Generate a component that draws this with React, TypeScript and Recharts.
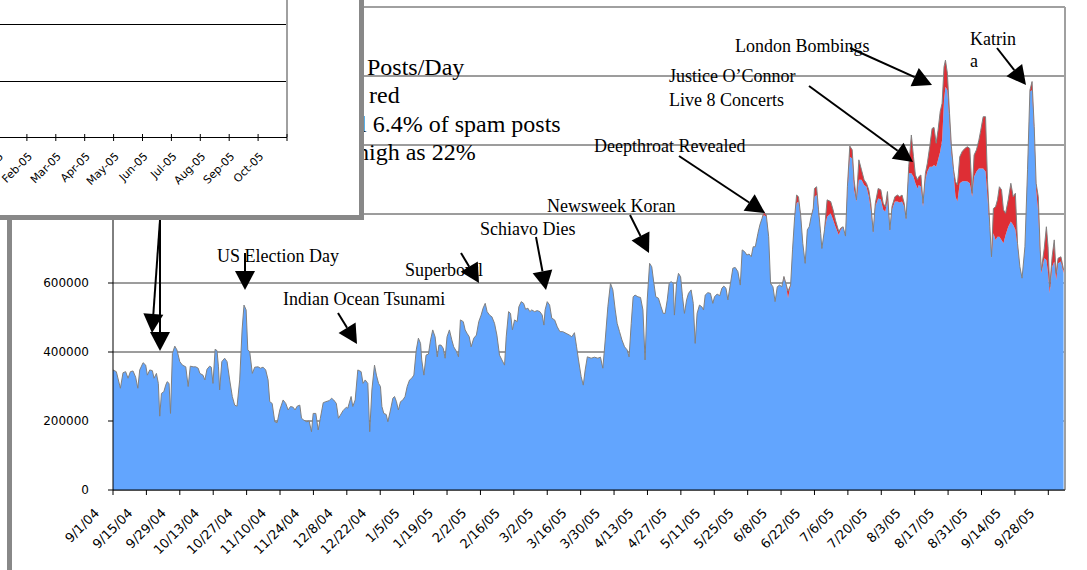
import { Area, AreaChart, CartesianGrid, ReferenceLine, XAxis, YAxis } from 'recharts'

// day offset from 9/1/04
const DAY = [
  0, 1.4, 3.1, 4.2, 5.3, 6.3, 7.3, 8.4, 9.5, 10.4,
  11.2, 12.6, 13.7, 14.4, 15.4, 16.5, 17.2, 18.2, 19.0, 19.6,
  20.3, 21.3, 22.1, 22.7, 23.5, 24.1, 24.9, 25.9, 26.8, 28.0,
  29.1, 30.5, 31.5, 32.4, 33.6, 34.7, 35.7, 36.4, 37.7, 38.5,
  39.4, 40.5, 41.2, 41.9, 42.8, 43.6, 44.2, 44.7, 45.6, 46.8,
  47.8, 48.9, 50.0, 51.0, 52.0, 53.1, 54.1, 54.9, 55.8, 56.5,
  57.3, 58.4, 59.4, 60.8, 61.8, 62.9, 64.0, 65.0, 65.7, 66.7,
  67.8, 68.8, 69.9, 71.3, 72.4, 73.4, 74.4, 75.5, 76.3, 77.2,
  78.3, 79.0, 79.9, 81.1, 82.2, 83.2, 83.9, 85.0, 86.0, 86.9,
  88.1, 89.2, 90.6, 91.6, 92.5, 93.6, 94.5, 95.3, 96.4, 97.8,
  98.4, 99.8, 100.5, 101.5, 102.6, 104.0, 104.8, 105.7, 106.8, 107.6,
  108.5, 109.6, 110.4, 111.3, 112.1, 112.7, 113.5, 114.5, 115.2, 116.3,
  117.3, 118.0, 118.8, 119.6, 120.5, 121.5, 122.4, 123.3, 124.3, 125.2,
  126.1, 127.1, 128.0, 128.9, 129.4, 130.3, 131.2, 132.2, 133.1, 134.0,
  135.0, 135.9, 136.6, 137.5, 138.4, 139.2, 140.0, 141.0, 142.0, 142.8,
  144.0, 144.8, 145.6, 146.8, 147.6, 148.4, 149.3, 150.1, 151.2, 152.3,
  153.3, 154.3, 155.1, 156.0, 156.8, 157.8, 158.8, 159.9, 160.9, 162.0,
  163.0, 164.1, 164.8, 165.8, 166.6, 167.4, 168.3, 169.4, 170.1, 171.1,
  172.1, 172.9, 173.9, 174.7, 175.5, 176.7, 177.8, 178.9, 179.9, 180.6,
  181.1, 182.0, 183.0, 183.9, 185.1, 186.2, 187.3, 188.5, 189.9, 191.3,
  192.3, 193.4, 194.3, 195.1, 196.2, 197.1, 197.9, 198.8,
  200.4, 201.8, 203.2, 204.3, 205.3, 206.3, 207.4, 208.5, 209.5, 210.5,
  211.3, 212.3, 213.3, 214.4, 215.5, 216.3, 217.2, 218.0, 218.8, 220.0,
  221.1, 222.1, 223.0, 223.9, 224.9, 225.8, 226.7, 227.5, 228.6, 229.7,
  230.6, 231.4, 232.3, 233.1, 233.9, 234.8, 235.3, 236.2, 237.0, 237.9,
  238.7, 239.5, 240.4, 241.2, 242.3, 243.2, 244.0, 244.8, 245.8, 246.8,
  247.5, 248.2, 249.3, 250.4, 251.4, 252.1, 253.2, 254.3, 255.2, 256.0,
  256.9, 257.7, 258.8, 259.8, 260.8, 261.9, 262.9, 263.7, 264.7, 265.7,
  266.6, 267.5, 268.3, 269.2, 270.3, 271.1, 272.0, 272.8, 273.8, 274.8,
  275.6, 276.6, 277.5, 278.4, 279.4, 280.3, 281.2, 282.0, 282.9, 284.0,
  284.8, 285.7, 286.5, 287.3, 288.2, 289.1, 290.1, 291.0, 291.8, 292.6,
  293.5, 294.0, 294.9, 295.7, 296.6, 297.1, 298.2, 299.3,
  300.8, 301.8, 302.8, 304.2, 305.0, 306.0, 307.0, 307.8, 308.8, 309.8,
  310.6, 311.6, 312.6, 313.7, 314.8, 315.8, 316.8, 317.6, 318.6, 319.5,
  320.7, 321.8, 322.8, 323.7, 324.6, 325.6, 326.5, 327.7, 328.8, 329.7,
  330.7, 331.6, 332.4, 333.5, 334.6, 335.5, 336.3, 337.2, 337.7, 338.6,
  339.5, 340.5, 341.3, 342.3, 343.3, 344.1, 345.0, 345.8, 346.7, 347.5,
  348.3, 348.9, 349.7, 350.6, 351.4, 352.3, 353.1, 353.9, 354.9, 355.9,
  357.0, 358.1, 359.1, 360.1, 360.9, 361.9, 362.9, 363.7, 364.7, 365.7,
  366.5, 367.5, 368.2, 369.0, 369.9, 370.7, 371.5, 372.4, 373.2, 374.1,
  375.2, 376.3, 377.3, 378.2, 379.1, 380.1, 381.0, 382.2, 383.3, 384.3,
  385.2, 386.1, 386.9, 387.8, 388.6, 389.1, 390.3, 391.2, 391.9, 392.6,
  393.6, 394.5, 395.3, 396.1, 397.3, 398.4,
]

// non-spam posts per day, in thousands
const POSTS_K = [
  348, 343, 295, 340, 343, 324, 343, 345, 327, 295,
  348, 369, 362, 333, 348, 346, 324, 338, 309, 214,
  280, 285, 304, 314, 309, 222, 396, 417, 406, 372,
  362, 357, 300, 359, 357, 357, 353, 338, 333, 319,
  350, 359, 356, 309, 408, 404, 357, 290, 372, 382,
  372, 319, 271, 246, 243, 319, 464, 536, 522, 406,
  401, 338, 356, 357, 353, 356, 348, 319, 256, 251,
  198, 195, 232, 261, 251, 232, 242, 240, 232, 243,
  246, 208, 203, 198, 200, 169, 222, 222, 174, 208,
  253, 256, 259, 266, 261, 251, 208, 217, 230, 240,
  237, 271, 242, 261, 348, 343, 309, 319, 309, 169,
  290, 362, 333, 309, 300, 242, 222, 219, 198, 232,
  266, 271, 256, 232, 256, 261, 271, 300, 319, 324,
  333, 406, 440, 425, 377, 333, 391, 394, 435, 464,
  444, 386, 420, 420, 411, 382, 444, 464, 435, 415,
  401, 386, 493, 488, 464, 454, 444, 415, 440, 449,
  488, 507, 527, 541, 517, 507, 502, 483, 449, 391,
  377, 362, 444, 517, 512, 464, 493, 488, 531, 546,
  541, 524, 527, 517, 522, 517, 520, 517, 507, 478,
  522, 546, 536, 498, 493, 473, 459, 459, 454, 449,
  444, 456, 415, 377, 329, 304, 348, 386,
  382, 385, 382, 385, 353, 435, 531, 599, 580, 522,
  483, 459, 435, 415, 406, 386, 483, 560, 565, 560,
  558, 522, 377, 551, 657, 647, 599, 560, 556, 531,
  512, 512, 551, 599, 604, 599, 507, 599, 628, 618,
  560, 512, 551, 570, 580, 541, 425, 512, 536, 531,
  522, 565, 572, 570, 541, 560, 568, 563, 585, 591,
  585, 551, 599, 643, 645, 633, 594, 696, 691, 681,
  684, 676, 705, 705, 744, 768, 787, 797, 792, 734,
  599, 589, 546, 589, 594, 589, 614, 599, 556, 594,
  696, 792, 831, 836, 792, 715, 657, 754, 763, 792,
  812, 850, 855, 802, 744, 700, 754, 792,
  802, 783, 763, 739, 754, 763, 734, 860, 966, 961,
  870, 836, 899, 899, 884, 879, 850, 812, 744, 821,
  845, 843, 812, 807, 841, 749, 812, 836, 836, 833,
  836, 821, 783, 918, 918, 908, 889, 874, 884, 879,
  821, 899, 923, 937, 937, 942, 937, 957, 981, 1015,
  1130, 1169, 1159, 1063, 976, 918, 850, 836, 889, 894,
  896, 894, 889, 850, 908, 923, 932, 932, 932, 923,
  850, 754, 672, 744, 725, 734, 734, 725, 715, 739,
  763, 778, 768, 754, 705, 647, 614, 705, 918, 1155,
  1159, 1034, 870, 802, 676, 628, 672, 667, 628, 570,
  647, 662, 609, 657, 662, 628,
]

// spam posts per day (red), in thousands, only the days where it shows
const SPAM_DAY = [
  272.8, 273.8, 281.2, 282.9, 286.5, 287.3, 288.2, 293.5, 294.0, 294.9, 295.7, 299.3,
  300.8, 301.8, 302.8, 304.2, 305.0, 307.0, 307.8, 308.8, 309.8,
  310.6, 311.6, 312.6, 313.7, 314.8, 315.8, 316.8, 317.6, 318.6, 319.5,
  320.7, 321.8, 322.8, 323.7, 324.6, 325.6, 326.5, 327.7, 328.8, 329.7,
  330.7, 331.6, 332.4, 333.5, 334.6, 335.5, 336.3, 337.2, 337.7, 338.6,
  339.5, 340.5, 341.3, 342.3, 343.3, 344.1, 345.0, 345.8, 346.7, 347.5,
  348.3, 348.9, 349.7, 350.6, 351.4, 352.3, 353.1, 353.9, 354.9, 355.9,
  357.0, 358.1, 359.1, 360.1, 360.9, 361.9, 362.9, 363.7, 364.7, 365.7,
  366.5, 367.5, 368.2, 369.0, 369.9, 370.7, 371.5, 372.4, 373.2, 374.1,
  375.2, 376.3, 377.3, 378.2, 379.1, 383.3, 384.3,
  385.2, 386.1, 386.9, 387.8, 388.6, 389.1, 390.3, 391.2, 391.9, 392.6,
  393.6, 394.5, 395.3, 396.1, 397.3, 398.4,
]
const SPAM_K = [
  10, 5, 5, 20, 24, 14, 5, 5, 24, 24, 10, 49,
  34, 29, 19, 10, 5, 2, 19, 31, 25,
  29, 5, 58, 29, 15, 10, 19, 19, 5, 10,
  29, 27, 19, 14, 24, 5, 10, 14, 19, 17,
  19, 10, 4, 19, 111, 58, 24, 25, 24, 34,
  10, 19, 24, 58, 111, 109, 68, 86, 116, 106,
  97, 77, 49, 29, 19, 10, 44, 48, 77, 87,
  94, 101, 101, 10, 63, 63, 82, 111, 150, 159,
  49, 9, 4, 72, 96, 107, 145, 145, 97, 63,
  78, 111, 82, 106, 10, 10, 4,
  25, 19, 19, 48, 20, 10, 28, 96, 77, 19,
  29, 63, 19, 15, 14, 10,
]

const X_TICK_LABELS = [
  '9/1/04', '9/15/04', '9/29/04', '10/13/04', '10/27/04', '11/10/04', '11/24/04', '12/8/04',
  '12/22/04', '1/5/05', '1/19/05', '2/2/05', '2/16/05', '3/2/05', '3/16/05', '3/30/05',
  '4/13/05', '4/27/05', '5/11/05', '5/25/05', '6/8/05', '6/22/05', '7/6/05', '7/20/05',
  '8/3/05', '8/17/05', '8/31/05', '9/14/05', '9/28/05',
]
const X_TICK_DAYS = X_TICK_LABELS.map((_, i) => i * 14)
const Y_TICKS = [0, 200000, 400000, 600000, 800000, 1000000, 1200000, 1400000]

const INSET_MONTHS = ['Jan-05', 'Feb-05', 'Mar-05', 'Apr-05', 'May-05', 'Jun-05', 'Jul-05', 'Aug-05', 'Sep-05', 'Oct-05']

const BLUE = '#62A5FE'
const RED = '#DE2E35'
const SERIF = 'Liberation Serif, Times New Roman, serif'
const SANS = 'DejaVu Sans, Verdana, sans-serif'

const spamByDay = new Map(SPAM_DAY.map((d, i) => [d, SPAM_K[i]]))
const data = DAY.map((day, i) => ({
  day,
  posts: POSTS_K[i] * 1000,
  spam: (spamByDay.get(day) ?? 0) * 1000,
}))

const labels = [
  { text: 'US Election Day', x: 217, y: 262 },
  { text: 'Indian Ocean Tsunami', x: 283, y: 305 },
  { text: 'Superbowl', x: 405, y: 276 },
  { text: 'Schiavo Dies', x: 480, y: 235 },
  { text: 'Newsweek Koran', x: 547, y: 212 },
  { text: 'Deepthroat Revealed', x: 594, y: 152 },
  { text: 'Justice O’Connor', x: 669, y: 82 },
  { text: 'Live 8 Concerts', x: 669, y: 106 },
  { text: 'London Bombings', x: 735, y: 52 },
  { text: 'Katrin', x: 970, y: 45 },
  { text: 'a', x: 970, y: 67 },
]

const arrows = [
  [160, 220, 152, 333],
  [160, 220, 160, 351],
  [245, 253, 245, 290],
  [338, 313, 357, 344],
  [461, 253, 479, 283],
  [536, 237, 546, 290],
  [630, 215, 649, 253],
  [679, 156, 765, 213],
  [809, 86, 913, 162],
  [850, 48, 932, 85],
  [997, 48, 1026, 85],
]

function Arrow({ x1, y1, x2, y2 }: { x1: number; y1: number; x2: number; y2: number }) {
  const a = Math.atan2(y2 - y1, x2 - x1)
  const len = 19
  const half = 10
  const bx = x2 - len * Math.cos(a)
  const by = y2 - len * Math.sin(a)
  const px = -Math.sin(a) * half
  const py = Math.cos(a) * half
  return (
    <g>
      <line x1={x1} y1={y1} x2={bx} y2={by} stroke='#000' strokeWidth={2} />
      <polygon points={`${x2},${y2} ${bx + px},${by + py} ${bx - px},${by - py}`} fill='#000' />
    </g>
  )
}

function DateTick(props: any) {
  const { x, y, payload } = props
  const label = X_TICK_LABELS[Math.round(payload.value / 14)]
  return (
    <g transform={`translate(${x},${y})`}>
      <text x={-13} y={19} textAnchor='end' transform='rotate(-45, -13, 19)' fill='#000' fontSize={13} fontFamily={SANS}>
        {label}
      </text>
    </g>
  )
}

function Inset() {
  const step = 28.9
  return (
    <svg width={365} height={221} style={{ position: 'absolute', left: 0, top: 0 }}>
      <rect x={0} y={0} width={364} height={220} fill='#fff' />
      <line x1={0} y1={24.5} x2={287} y2={24.5} stroke='#000' />
      <line x1={0} y1={81.5} x2={287} y2={81.5} stroke='#000' />
      <line x1={287} y1={0} x2={287} y2={137} stroke='#a0a0a0' strokeWidth={2} />
      <line x1={0} y1={137.5} x2={287} y2={137.5} stroke='#000' />
      {INSET_MONTHS.concat(['']).map((m, i) => {
        const tx = -2 + step * i
        return (
          <g key={i}>
            <line x1={tx} y1={134} x2={tx} y2={141} stroke='#000' />
            {m && (
              <text x={tx + 6} y={157} textAnchor='end' transform={`rotate(-45, ${tx + 6}, 157)`} fontSize={11} fontFamily={SANS} fill='#000'>
                {m}
              </text>
            )}
          </g>
        )
      })}
      <rect x={359} y={0} width={5} height={220} fill='#888' />
      <rect x={0} y={215} width={364} height={5} fill='#888' />
    </svg>
  )
}

export default function App() {
  return (
    <div style={{ position: 'absolute', left: 0, top: 0, width: 1087, height: 570, background: '#fff', overflow: 'hidden' }}>
      <div style={{ position: 'absolute', left: 0, top: 0 }}>
        <AreaChart width={1087} height={570} data={data} margin={{ top: 7, right: 22, bottom: 20, left: 53 }}>
          <CartesianGrid vertical={false} stroke='#3a3a3a' />
          <XAxis
            type='number'
            dataKey='day'
            domain={[0, 399]}
            ticks={X_TICK_DAYS}
            interval={0}
            height={60}
            tickSize={5}
            tickMargin={0}
            axisLine={{ stroke: '#000' }}
            tickLine={{ stroke: '#000' }}
            tick={(p: any) => <DateTick {...p} />}
          />
          <YAxis
            type='number'
            domain={[0, 1400000]}
            ticks={Y_TICKS}
            interval={0}
            width={60}
            tickSize={5}
            tickMargin={19}
            axisLine={{ stroke: '#000' }}
            tickLine={{ stroke: '#000' }}
            tick={{ fill: '#000', fontSize: 12, fontFamily: SANS }}
          />
          <Area type='linear' dataKey='posts' stackId='a' stroke='none' fill={BLUE} fillOpacity={1} isAnimationActive={false} activeDot={false} />
          <Area type='linear' dataKey='spam' stackId='a' stroke='#808080' strokeWidth={1} fill={RED} fillOpacity={1} isAnimationActive={false} activeDot={false} />
          <ReferenceLine y={1400000} stroke='#a0a0a0' strokeWidth={2} />
          <ReferenceLine x={399} stroke='#a0a0a0' strokeWidth={2} />
        </AreaChart>
      </div>
      <svg width={1087} height={570} style={{ position: 'absolute', left: 0, top: 0, pointerEvents: 'none' }}>
        <rect x={7} y={215} width={5} height={355} fill='#888' />
        {labels.map((l) => (
          <text key={l.text + l.y} x={l.x} y={l.y} fontFamily={SERIF} fontSize={18} fill='#000'>
            {l.text}
          </text>
        ))}
        {arrows.map(([x1, y1, x2, y2], i) => (
          <Arrow key={i} x1={x1} y1={y1} x2={x2} y2={y2} />
        ))}
        <g fontFamily={SERIF} fontSize={24} fill='#000'>
          <text x={367} y={75}>Posts/Day</text>
          <text x={369} y={103}>red</text>
          <text x={360} y={132}>l 6.4% of spam posts</text>
          <text x={357} y={160}>high as 22%</text>
        </g>
      </svg>
      <Inset />
    </div>
  )
}
